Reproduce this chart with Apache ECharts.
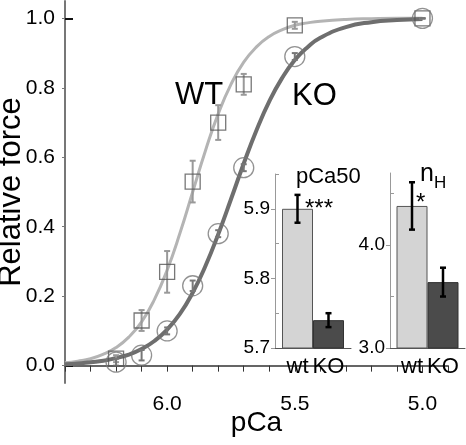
<!DOCTYPE html>
<html>
<head>
<meta charset="utf-8">
<script src="https://cdn.jsdelivr.net/npm/echarts@6/dist/echarts.min.js"></script>
<style>
html,body{margin:0;padding:0;background:#fff;}
#chart{width:466px;height:445px;}
</style>
</head>
<body>
<div id="chart"></div>
<script>
// ---- data ----
const pCaPoints = [6.2, 6.1, 6.0, 5.9, 5.8, 5.7, 5.5, 5.0];
const wtForce   = [0.02, 0.13, 0.27, 0.53, 0.70, 0.81, 0.98, 1.00];
const wtErr     = [0.01, 0.03, 0.06, 0.06, 0.05, 0.03, 0.01, 0.00];
const koForce   = [0.01, 0.03, 0.10, 0.23, 0.38, 0.57, 0.89, 1.00];
const koErr     = [0.01, 0.015, 0.01, 0.015, 0.01, 0.01, 0.01, 0.00];

const fitPCa = [6.4, 6.35, 6.3, 6.25, 6.2, 6.15, 6.1, 6.05, 6.0, 5.95, 5.9, 5.85, 5.8, 5.75, 5.7, 5.65, 5.6, 5.55, 5.5, 5.45, 5.4, 5.3, 5.2, 5.1, 5.0];
const wtFit  = [0.008, 0.013, 0.020, 0.033, 0.052, 0.082, 0.126, 0.190, 0.275, 0.381, 0.500, 0.619, 0.725, 0.810, 0.874, 0.918, 0.948, 0.967, 0.980, 0.987, 0.992, 0.997, 0.999, 1.000, 1.000];
const koFit  = [0.004, 0.006, 0.010, 0.014, 0.022, 0.032, 0.048, 0.071, 0.104, 0.149, 0.210, 0.287, 0.378, 0.479, 0.582, 0.678, 0.761, 0.828, 0.880, 0.917, 0.944, 0.975, 0.989, 0.995, 0.998];

const xTickValues  = [6.4, 6.3, 6.2, 6.1, 6.0, 5.9, 5.8, 5.7, 5.6, 5.5, 5.4, 5.3, 5.2, 5.1, 5.0, 4.9];
const xLabelValues = [6.0, 5.5, 5.0];
const yTickValues  = [0.0, 0.2, 0.4, 0.6, 0.8, 1.0];

const insetGroups = ['wt', 'KO'];
const pCa50Mean = [5.90, 5.74];
const pCa50Err  = [0.02, 0.01];
const pCa50Major = [5.7, 5.8, 5.9];
const pCa50Minor = [5.75, 5.85, 5.95];
const nHMean = [4.38, 3.64];
const nHErr  = [0.23, 0.14];
const nHMajor = [3.0, 4.0];
const nHMinor = [3.5, 4.5];

// ---- helpers ----
const FONT = 'Liberation Sans, Arial, sans-serif';
function zip(a, b) { return a.map((v, i) => [v, b[i]]); }
function zip3(a, b, c) { return a.map((v, i) => [v, b[i], c[i]]); }

function errRender(color, lw, cap, pxOffset) {
  return function (params, api) {
    const x = api.value(0), y = api.value(1), e = api.value(2);
    const t = api.coord([x, y + e]);
    const b = api.coord([x, y - e]);
    const cx = t[0] + pxOffset;
    const st = { stroke: color, lineWidth: lw };
    return {
      type: 'group',
      children: [
        { type: 'line', shape: { x1: cx, y1: t[1], x2: cx, y2: b[1] }, style: st },
        { type: 'line', shape: { x1: cx - cap, y1: t[1], x2: cx + cap, y2: t[1] }, style: st },
        { type: 'line', shape: { x1: cx - cap, y1: b[1], x2: cx + cap, y2: b[1] }, style: st }
      ]
    };
  };
}

const BARW = 31;
const gridBase = { containLabel: false, outerBoundsMode: 'none' };
const barLabel = { show: true, position: 'bottom', distance: 7, formatter: '{a}', fontFamily: FONT, fontSize: 22, color: '#000' };

const option = {
  backgroundColor: '#fff',
  animation: false,
  grid: [
    Object.assign({ left: 65, top: 1, width: 383, height: 382 }, gridBase),
    Object.assign({ left: 275, top: 174, width: 76, height: 174 }, gridBase),
    Object.assign({ left: 390, top: 173, width: 75, height: 175 }, gridBase)
  ],
  xAxis: [
    {
      gridIndex: 0, type: 'value', inverse: true, min: 4.9, max: 6.4,
      name: 'pCa', nameLocation: 'middle', nameGap: 26, nameMoveOverlap: false,
      nameTextStyle: { fontFamily: FONT, fontSize: 28, color: '#000' },
      axisLine: { show: true, lineStyle: { color: '#333', width: 1.5 } },
      axisTick: { show: true, inside: false, length: 6, lineStyle: { color: '#333', width: 1 }, customValues: xTickValues },
      axisLabel: { show: true, margin: 11, fontFamily: FONT, fontSize: 21, color: '#000', customValues: xLabelValues,
        formatter: v => Number(v).toFixed(1) },
      splitLine: { show: false }
    },
    {
      gridIndex: 1, type: 'category', data: ['g'],
      axisLine: { show: true, onZero: false, lineStyle: { color: '#555', width: 1 } },
      axisTick: { show: false }, axisLabel: { show: false }, splitLine: { show: false }
    },
    {
      gridIndex: 2, type: 'category', data: ['g'],
      axisLine: { show: true, onZero: false, lineStyle: { color: '#555', width: 1 } },
      axisTick: { show: false }, axisLabel: { show: false }, splitLine: { show: false }
    }
  ],
  yAxis: [
    {
      gridIndex: 0, type: 'value', min: -0.05, max: 1.05,
      name: 'Relative force', nameLocation: 'middle', nameGap: 38, nameRotate: 90, nameMoveOverlap: false,
      nameTextStyle: { fontFamily: FONT, fontSize: 31, color: '#000' },
      axisLine: { show: true, onZero: false, lineStyle: { color: '#777', width: 2 } },
      axisTick: { show: true, inside: false, length: 3, lineStyle: { color: '#777' }, customValues: yTickValues },
      axisLabel: { show: true, margin: 10, fontFamily: FONT, fontSize: 21, color: '#000', customValues: yTickValues,
        formatter: v => Number(v).toFixed(1) },
      splitLine: { show: false }
    },
    {
      gridIndex: 0, type: 'value', min: -0.05, max: 1.05, position: 'left',
      axisLine: { show: false },
      axisTick: { show: true, inside: true, length: 8, lineStyle: { color: '#111', width: 2 }, customValues: [0, 1] },
      axisLabel: { show: false }, splitLine: { show: false }
    },
    {
      gridIndex: 1, type: 'value', min: 5.7, max: 5.95,
      axisLine: { show: true, onZero: false, lineStyle: { color: '#999', width: 1 } },
      axisTick: { show: true, inside: false, length: 4, lineStyle: { color: '#999' }, customValues: pCa50Major },
      axisLabel: { show: true, margin: 5, fontFamily: FONT, fontSize: 19, color: '#000', customValues: pCa50Major,
        formatter: v => Number(v).toFixed(1) },
      splitLine: { show: false }
    },
    {
      gridIndex: 1, type: 'value', min: 5.7, max: 5.95, position: 'left',
      axisLine: { show: false },
      axisTick: { show: true, inside: true, length: 4, lineStyle: { color: '#999' }, customValues: pCa50Minor },
      axisLabel: { show: false }, splitLine: { show: false }
    },
    {
      gridIndex: 2, type: 'value', min: 3.0, max: 4.7,
      axisLine: { show: true, onZero: false, lineStyle: { color: '#999', width: 1 } },
      axisTick: { show: true, inside: false, length: 4, lineStyle: { color: '#999' }, customValues: nHMajor },
      axisLabel: { show: true, margin: 5, fontFamily: FONT, fontSize: 19, color: '#000', customValues: nHMajor,
        formatter: v => Number(v).toFixed(1) },
      splitLine: { show: false }
    },
    {
      gridIndex: 2, type: 'value', min: 3.0, max: 4.7, position: 'left',
      axisLine: { show: false },
      axisTick: { show: true, inside: true, length: 4, lineStyle: { color: '#999' }, customValues: nHMinor },
      axisLabel: { show: false }, splitLine: { show: false }
    }
  ],
  series: [
    // fitted curves
    { type: 'line', xAxisIndex: 0, yAxisIndex: 0, data: zip(fitPCa, wtFit), showSymbol: false, smooth: true,
      lineStyle: { color: '#b4b4b4', width: 3 }, z: 2 },
    { type: 'line', xAxisIndex: 0, yAxisIndex: 0, data: zip(fitPCa, koFit), showSymbol: false, smooth: true,
      lineStyle: { color: '#6e6e6e', width: 4 }, z: 2 },
    // error bars
    { type: 'custom', xAxisIndex: 0, yAxisIndex: 0, data: zip3(pCaPoints, wtForce, wtErr),
      renderItem: errRender('#999', 2, 3, 0), z: 4 },
    { type: 'custom', xAxisIndex: 0, yAxisIndex: 0, data: zip3(pCaPoints, koForce, koErr),
      renderItem: errRender('#777', 2, 3, 0), z: 4 },
    // points
    { type: 'scatter', xAxisIndex: 0, yAxisIndex: 0, data: zip(pCaPoints, wtForce), symbol: 'rect', symbolSize: 15,
      itemStyle: { color: 'rgba(0,0,0,0)', borderColor: '#555', borderWidth: 1.3 }, z: 5 },
    { type: 'scatter', xAxisIndex: 0, yAxisIndex: 0, data: zip(pCaPoints, koForce), symbol: 'circle', symbolSize: 20,
      itemStyle: { color: 'rgba(0,0,0,0)', borderColor: '#777', borderWidth: 1.3 }, z: 5 },

    // inset pCa50 bars
    { type: 'bar', name: insetGroups[0], xAxisIndex: 1, yAxisIndex: 2, data: [pCa50Mean[0]], barWidth: BARW, barGap: '0%',
      itemStyle: { color: '#d4d4d4', borderColor: '#555', borderWidth: 1 }, label: barLabel },
    { type: 'bar', name: insetGroups[1], xAxisIndex: 1, yAxisIndex: 2, data: [pCa50Mean[1]], barWidth: BARW, barGap: '0%',
      itemStyle: { color: '#4b4b4b', borderColor: '#333', borderWidth: 1 }, label: barLabel },
    { type: 'custom', xAxisIndex: 1, yAxisIndex: 2, data: [[0, pCa50Mean[0], pCa50Err[0]]],
      renderItem: errRender('#000', 2.5, 3, -BARW / 2), z: 6 },
    { type: 'custom', xAxisIndex: 1, yAxisIndex: 2, data: [[0, pCa50Mean[1], pCa50Err[1]]],
      renderItem: errRender('#000', 2.5, 3, BARW / 2), z: 6 },

    // inset nH bars
    { type: 'bar', name: insetGroups[0], xAxisIndex: 2, yAxisIndex: 4, data: [nHMean[0]], barWidth: BARW, barGap: '0%',
      itemStyle: { color: '#d4d4d4', borderColor: '#555', borderWidth: 1 }, label: barLabel },
    { type: 'bar', name: insetGroups[1], xAxisIndex: 2, yAxisIndex: 4, data: [nHMean[1]], barWidth: BARW, barGap: '0%',
      itemStyle: { color: '#4b4b4b', borderColor: '#333', borderWidth: 1 }, label: barLabel },
    { type: 'custom', xAxisIndex: 2, yAxisIndex: 4, data: [[0, nHMean[0], nHErr[0]]],
      renderItem: errRender('#000', 2.5, 3, -BARW / 2), z: 6 },
    { type: 'custom', xAxisIndex: 2, yAxisIndex: 4, data: [[0, nHMean[1], nHErr[1]]],
      renderItem: errRender('#000', 2.5, 3, BARW / 2), z: 6 }
  ],
  graphic: [
    { type: 'text', left: 175, top: 80, style: { text: 'WT', font: '31px ' + FONT, fill: '#000' } },
    { type: 'text', left: 292, top: 81, style: { text: 'KO', font: '31px ' + FONT, fill: '#000' } },
    { type: 'text', left: 296, top: 166, style: { text: 'pCa50', font: '22px ' + FONT, fill: '#000' } },
    { type: 'text', left: 420, top: 162, style: { text: 'n', font: '25px ' + FONT, fill: '#000' } },
    { type: 'text', left: 434, top: 175, style: { text: 'H', font: '17px ' + FONT, fill: '#000' } },
    { type: 'text', left: 305, top: 197, style: { text: '***', font: '24px ' + FONT, fill: '#000' } },
    { type: 'text', left: 416, top: 191, style: { text: '*', font: '24px ' + FONT, fill: '#000' } }
  ]
};

const chart = echarts.init(document.getElementById('chart'), null, { renderer: 'canvas' });
chart.setOption(option);
</script>
</body>
</html>
